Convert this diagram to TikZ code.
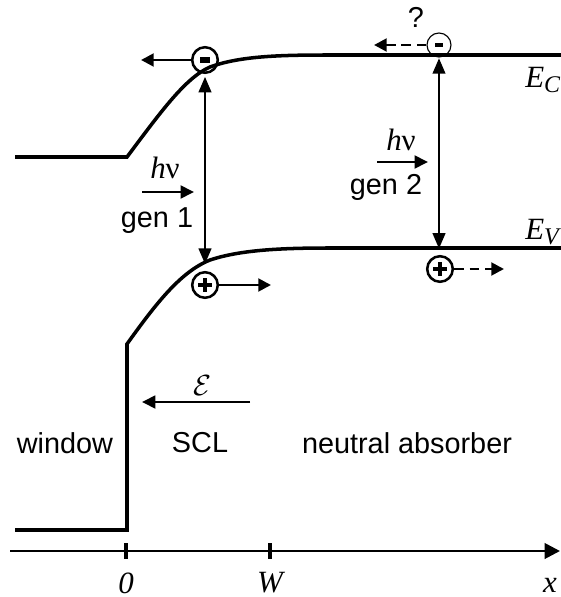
\documentclass[tikz,border=0pt]{standalone}
\usepackage{fontspec}
\setmainfont{Liberation Sans}
\newfontfamily\tmsfont{Liberation Serif}
\usetikzlibrary{arrows.meta,positioning}

\begin{document}
\begin{tikzpicture}[
  x=0.025cm,y=-0.025cm,
  band/.style={line width=2.5pt,line join=miter},
  pair/.style={{Triangle[length=11pt,width=9pt]}-{Triangle[length=11pt,width=9pt]},line width=1.5pt},
  motion/.style={-{Triangle[length=9pt,width=9pt]},line width=2pt},
  guess/.style={motion,dash pattern=on 7pt off 4pt},
  photon/.style={-{Triangle[length=9.5pt,width=9pt]},line width=2pt},
  electron/.style={circle,draw,line width=1.8pt,minimum size=0.64cm,inner sep=0pt,
    path picture={\fill ([xshift=-0.13cm,yshift=-0.065cm]path picture bounding box.center) rectangle ([xshift=0.13cm,yshift=0.065cm]path picture bounding box.center);}},
  fainte/.style={circle,draw,line width=0.8pt,minimum size=0.6cm,inner sep=0pt,
    path picture={\fill ([xshift=-0.1cm,yshift=-0.05cm]path picture bounding box.center) rectangle ([xshift=0.1cm,yshift=0.05cm]path picture bounding box.center);}},
  hole/.style={circle,draw,line width=1.8pt,minimum size=0.64cm,inner sep=0pt,
    path picture={\draw[line width=2.6pt] ([xshift=-0.17cm]path picture bounding box.center) -- ([xshift=0.17cm]path picture bounding box.center);
      \draw[line width=2.6pt] ([yshift=-0.17cm]path picture bounding box.center) -- ([yshift=0.17cm]path picture bounding box.center);}},
  sans/.style={font=\fontsize{20.5}{24}\selectfont,inner sep=0pt},
  serif/.style={font=\tmsfont\fontsize{22}{26}\selectfont\itshape,inner sep=0pt}
]
\useasboundingbox (0,0) rectangle (560,597);

\draw[band] (15,157) -- (127,157) .. controls (160,113) and (185,78) .. (210,67)
  .. controls (240,56) and (280,55) .. (330,55) -- (562,55);
\draw[band] (15,530) -- (127,530) -- (127,344) .. controls (155,305) and (180,272) .. (210,260)
  .. controls (240,250) and (280,248) .. (330,248) -- (562,248);

\node[electron] (e1) at (205,60) {};
\node[hole] (h1) at (205,285) {};
\node[fainte] (e2) at (439,45) {};
\node[hole] (h2) at (440,269) {};

\coordinate (e1end) at (141,60);
\coordinate (h1end) at (271,285);
\coordinate (e2end) at (374,45);
\coordinate (h2end) at (504,269);
\coordinate (nu1a) at (142,192);
\coordinate (nu1b) at (194,192);
\coordinate (nu2a) at (377,162);
\coordinate (nu2b) at (428,162);
\coordinate (fielda) at (250,402);
\coordinate (fieldb) at (142,402);
\coordinate (axisa) at (10,551);
\coordinate (axisb) at (560,551);

\draw[pair,shorten <=2pt,shorten >=5pt] (e1.south) -- (h1.north);
\draw[pair,shorten <=0.5pt,shorten >=4.5pt] (e2.south) -- (e2.south |- h2.north);
\draw[motion] (e1.west) -- (e1end);
\draw[motion] (h1.east) -- (h1end);
\draw[guess] (e2.west) -- (e2end);
\draw[guess] (h2.east) -- (h2end);
\draw[photon] (nu1a) -- (nu1b);
\draw[photon] (nu2a) -- (nu2b);
\draw[photon] (fielda) -- (fieldb);

\draw[line width=2pt,-{Triangle[length=11pt,width=11pt]}] (axisa) -- (axisb);
\foreach \t in {126,270}
  \draw[line width=2.4pt] (\t,543) -- (\t,559);

\node[serif] (nu1) at (165,168) {h\textup{ν}};
\node[sans] (gen1) at (157,221) {gen 1};
\node[serif] (nu2) at (401,140) {h\textup{ν}};
\node[sans] (gen2) at (386,187) {gen 2};
\node[sans] (what) at (416,17) {?};
\node[serif,anchor=west] (ec) at (525,80) {E\raisebox{-0.35ex}{\fontsize{17}{17}\selectfont C}};
\node[serif,anchor=west] (ev) at (525,232) {E\raisebox{-0.35ex}{\fontsize{17}{17}\selectfont V}};
\node[inner sep=0pt,font=\fontsize{21}{25}\selectfont] (field) at (202,386) {$\mathcal{E}$};
\node[sans] (window) at (65,443) {window};
\node[sans] (scl) at (200,443) {SCL};
\node[sans] (absorber) at (407,443) {neutral absorber};
\node[serif] (zero) at (126,583) {0};
\node[serif] (wid) at (270,583) {W};
\node[serif] (xlab) at (550,585) {x};
\end{tikzpicture}
\end{document}
